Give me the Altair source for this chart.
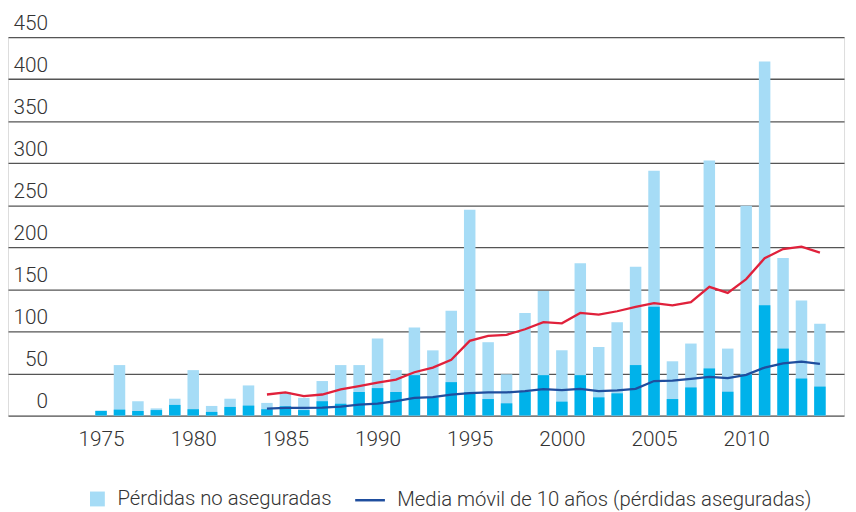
import altair as alt
import pandas as pd

years = list(range(1975, 2015))
total_losses = [5.8, 60, 17, 8.5, 20, 54, 11.4, 20, 35.8, 15,
                28, 21, 41, 60, 60, 91.6, 54, 104.6, 77.5, 124.6,
                244.6, 87.2, 49, 122, 148, 77.6, 181, 81.4, 111, 177,
                291, 64.5, 85.6, 303.4, 79.6, 249.6, 421, 187.4, 136.8, 109]
insured_losses = [5.5, 7, 5.5, 6.5, 12.6, 7.5, 4.3, 10.2, 11.8, 7.5,
                  11, 6.5, 17, 14, 28, 32.6, 28, 48, 21.6, 39.7,
                  27.5, 19.6, 14.5, 28.3, 48, 16.5, 48, 21.6, 26.4, 60,
                  129.3, 19.6, 33.4, 56, 28.3, 49, 131, 79.6, 44, 34.4]
ma_years = list(range(1984, 2015))
ma_total = [25, 27.5, 23, 25, 31, 35, 39, 42.8, 51.5, 57,
            66.4, 88.8, 94.7, 96, 102.6, 111, 109.7, 122, 120, 124,
            129.3, 133.6, 131, 134.8, 153, 145.8, 162.3, 187, 198, 200.8,
            193.7]
ma_insured = [8.3, 9, 9, 9.4, 10.6, 13, 14.2, 17, 21, 22,
              24.8, 26.7, 27.5, 27.5, 29, 31.4, 30.2, 31.8, 29, 29.9,
              31.8, 41, 41.6, 43.6, 46, 44.4, 48.3, 57, 62, 64,
              61.3]

S_UNINS = "Pérdidas no aseguradas"
S_INS = "Pérdidas aseguradas"
S_MA_TOT = "Media móvil de 10 años (pérdidas totales)"
S_MA_INS = "Media móvil de 10 años (pérdidas aseguradas)"

C_LIGHT = "#a6dcf6"
C_DARK = "#00b2ea"
C_RED = "#e0213b"
C_BLUE = "#1f4e9e"

FONT = "Roboto"
TXT = "#333333"
FS = 21
LFS = 20.5

df_tot = pd.DataFrame({"year": years, "value": total_losses, "serie": S_UNINS})
df_ins = pd.DataFrame({"year": years, "value": insured_losses, "serie": S_INS})
df_ma = pd.concat([
    pd.DataFrame({"year": ma_years, "value": ma_total, "serie": S_MA_TOT}),
    pd.DataFrame({"year": ma_years, "value": ma_insured, "serie": S_MA_INS}),
])

bar_legend = alt.Legend(
    orient="none", legendX=80, legendY=456, values=[S_UNINS], title=None,
    symbolType="square", symbolSize=225, symbolStrokeWidth=0,
    labelFontSize=LFS, labelFont=FONT, labelFontWeight=300, labelColor=TXT,
    labelOffset=10, labelLimit=0, padding=0, symbolOpacity=1,
)
line_legend = alt.Legend(
    orient="none", legendX=349, legendY=451, values=[S_MA_INS], title=None,
    symbolType="stroke", symbolSize=900, symbolStrokeWidth=2.5,
    labelFontSize=LFS, labelFont=FONT, labelFontWeight=300, labelColor=TXT,
    labelOffset=11, labelLimit=0, padding=0, symbolOpacity=1,
)

fill = alt.Color(
    "serie:N",
    scale=alt.Scale(domain=[S_UNINS, S_INS], range=[C_LIGHT, C_DARK]),
    legend=bar_legend,
)
stroke = alt.Stroke(
    "serie:N",
    scale=alt.Scale(domain=[S_MA_TOT, S_MA_INS], range=[C_RED, C_BLUE]),
    legend=line_legend,
)

x = alt.X("year:Q",
          scale=alt.Scale(domain=[1970.22, 2015.04], nice=False, zero=False),
          axis=alt.Axis(values=[1975, 1980, 1985, 1990, 1995, 2000, 2005, 2010],
                        format="d", title=None, grid=False, domain=False,
                        ticks=False, tickSize=0, labelPadding=13,
                        labelFontSize=FS, labelFont=FONT, labelFontWeight=300,
                        labelColor=TXT))
y = alt.Y("value:Q",
          scale=alt.Scale(domain=[0, 450], nice=False),
          axis=alt.Axis(values=list(range(0, 451, 50)), title=None,
                        grid=True, gridColor="#555555", gridWidth=1.3,
                        domain=False, ticks=False, tickSize=0,
                        labelAlign="right", labelBaseline="alphabetic",
                        labelPadding=-40, labelOffset=-8, labelFlush=False,
                        labelOverlap=False, labelFontSize=FS, labelFont=FONT,
                        labelFontWeight=300, labelColor=TXT))

bars_tot = alt.Chart(df_tot).mark_bar(size=11.6).encode(x=x, y=y, color=fill)
bars_ins = alt.Chart(df_ins).mark_bar(size=11.6).encode(x=x, y=y, color=fill)
lines = alt.Chart(df_ma).mark_line(strokeWidth=2.3).encode(
    x=x, y=y, stroke=stroke, detail="serie:N")

chart = alt.layer(bars_tot, bars_ins, lines).properties(
    width=844, height=382,
    autosize=alt.AutoSizeParams(type="none"),
    padding={"left": 0, "top": 27, "right": 4, "bottom": 97},
).configure_view(strokeWidth=0).configure(background="white")

chart.save("out.html", embed_options={"renderer": "svg", "actions": False})
